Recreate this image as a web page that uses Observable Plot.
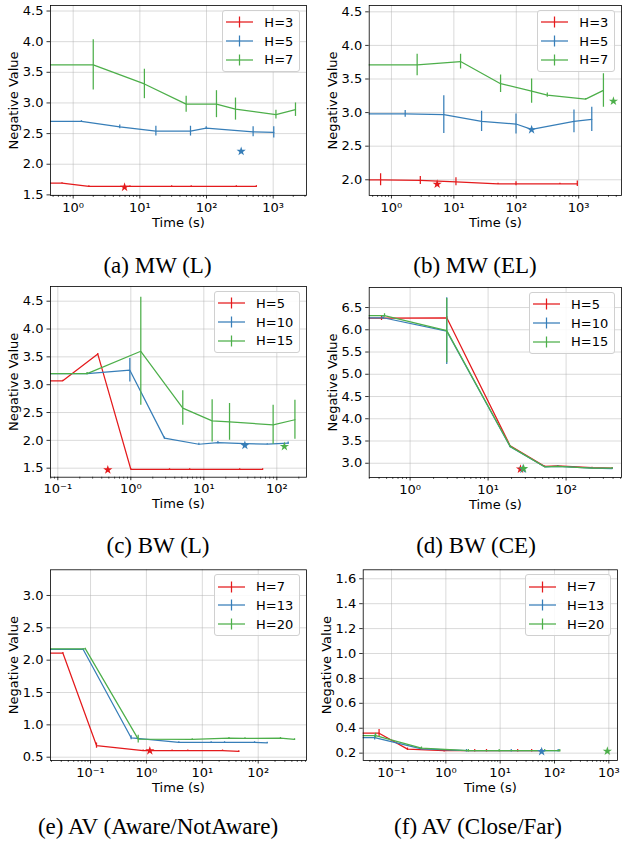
<!DOCTYPE html>
<html><head><meta charset="utf-8">
<script src="https://cdn.jsdelivr.net/npm/d3@7"></script>
<script src="https://cdn.jsdelivr.net/npm/@observablehq/plot@0.6"></script>
<style>
body{margin:0;background:#fff;}
#root{position:relative;width:622px;height:841px;overflow:hidden;background:#fff;}
.panel{position:absolute;}
.cap{position:absolute;font-family:"Liberation Serif","Times New Roman",serif;font-size:23px;transform:translate(-50%,-50%);white-space:nowrap;color:#000;line-height:1;}
.leg{position:absolute;background:rgba(255,255,255,0.85);border:1px solid #d0d0d0;border-radius:3px;padding:2px 6px 2px 3.5px;font-family:"DejaVu Sans",sans-serif;font-size:13px;color:#000;}
.row{display:flex;align-items:center;height:18.7px;}
.row svg{margin-right:11px;}
</style>
</head><body><div id="root"></div>
<script>
// Series colours (H small, H medium, H large)
const COLORS = ["#e41a1c", "#377eb8", "#4daf4a"];

// ---------- (a) MW (L) ----------  [time (s), negative value, error]
const mwL_names = ["H=3", "H=5", "H=7"];
const mwL_H3 = [[0,1.69,0],[0.68,1.69,0.01],[1.72,1.64,0.01],[7.1,1.64,0.01],[30,1.64,0.01],[59,1.64,0.01],[280,1.64,0.01],[560,1.64,0.01]];
const mwL_H5 = [[0,2.70,0],[1.33,2.70,0.01],[5.0,2.61,0.03],[17.4,2.54,0.08],[57.5,2.54,0.08],[99,2.59,0.02],[500,2.53,0.08],[1020,2.52,0.09]];
const mwL_H7 = [[0,3.62,0],[2.0,3.62,0.41],[11.7,3.31,0.24],[49.5,2.98,0.13],[141,2.98,0.22],[272,2.90,0.18],[1100,2.81,0.07],[2160,2.89,0.11]];
const mwL_stars = [[5.9,1.625],[331,2.21],null];

// ---------- (b) MW (EL) ----------
const mwEL_names = ["H=3", "H=5", "H=7"];
const mwEL_H3 = [[0,2.0,0],[0.67,2.0,0.09],[2.9,1.99,0.06],[10.8,1.97,0.06],[51,1.94,0.01],[99,1.94,0.03],[500,1.94,0.01],[950,1.94,0.04]];
const mwEL_H5 = [[0,2.98,0],[1.66,2.98,0.05],[6.9,2.97,0.28],[27.8,2.87,0.15],[99,2.83,0.15],[176,2.75,0.03],[840,2.87,0.17],[1620,2.90,0.18]];
const mwEL_H7 = [[0,3.71,0],[2.58,3.71,0.16],[12.8,3.76,0.11],[56,3.43,0.13],[176,3.32,0.18],[314,3.26,0.03],[1290,3.20,0.01],[2490,3.33,0.25]];
const mwEL_stars = [[5.4,1.935],[176,2.745],[3600,3.17]];

// ---------- (c) BW (L) ----------
const bwL_names = ["H=5", "H=10", "H=15"];
const bwL_H5 = [[0,3.07,0],[0.117,3.07,0.01],[0.353,3.55,0.01],[1.0,1.48,0.01],[3.39,1.48,0.01],[6.4,1.48,0.01],[31,1.48,0.01],[64,1.48,0.01]];
const bwL_H10 = [[0,3.2,0],[0.252,3.2,0.01],[0.97,3.26,0.21],[2.89,2.04,0.02],[8.55,1.93,0.02],[15.6,1.96,0.02],[36.5,1.94,0.01],[74,1.93,0.01],[143,1.95,0.02]];
const bwL_H15 = [[0,3.2,0],[0.252,3.2,0.02],[1.37,3.6,0.97],[5.15,2.58,0.31],[13.0,2.35,0.38],[22.5,2.33,0.33],[89,2.28,0.35],[177,2.37,0.35]];
const bwL_stars = [[0.484,1.47],[36.5,1.91],[127,1.89]];

// ---------- (d) BW (CE) ----------
const bwCE_names = ["H=5", "H=10", "H=15"];
const bwCE_H5 = [[0,6.26,0],[0.43,6.26,0.05],[2.95,6.27,0.03],[19.2,3.39,0.01],[53,2.93,0.01],[78,2.94,0.01],[215,2.90,0.01],[390,2.89,0.01]];
const bwCE_H10 = [[0,6.27,0],[0.45,6.27,0.03],[2.95,5.97,0.75],[19.2,3.37,0.02],[53,2.92,0.01],[78,2.93,0.01],[215,2.89,0.01],[390,2.88,0.01]];
const bwCE_H15 = [[0,6.32,0],[0.47,6.32,0.04],[2.95,5.98,0.72],[19.2,3.38,0.02],[53,2.92,0.01],[78,2.93,0.01],[215,2.89,0.01],[390,2.89,0.01]];
const bwCE_stars = [[26,2.87],[28,2.87],[28.5,2.88]];

// ---------- (e) AV (Aware/NotAware) ----------
const avA_names = ["H=7", "H=13", "H=20"];
const avA_H7 = [[0,2.11,0],[0.032,2.11,0.01],[0.128,0.68,0.04],[0.875,0.60,0.01],[1.18,0.60,0.01],[2.88,0.60,0.01],[5.5,0.60,0.01],[23,0.60,0.01],[45,0.59,0.01]];
const avA_H13 = [[0,2.165,0],[0.074,2.165,0.01],[0.533,0.80,0.03],[0.684,0.79,0.01],[3.8,0.73,0.01],[14.4,0.73,0.01],[25,0.73,0.01],[86,0.73,0.01],[145,0.72,0.01]];
const avA_H20 = [[0,2.175,0],[0.081,2.175,0.01],[0.713,0.78,0.06],[6.6,0.775,0.01],[30,0.795,0.01],[58,0.79,0.01],[250,0.795,0.01],[447,0.775,0.01]];
const avA_stars = [[1.15,0.60],null,null];

// ---------- (f) AV (Close/Far) ----------
const avC_names = ["H=7", "H=13", "H=20"];
const avC_H7 = [[0,0.36,0],[0.059,0.36,0.03],[0.197,0.232,0.01],[0.93,0.22,0.01],[3.4,0.22,0.01],[5.6,0.22,0.01],[21,0.22,0.01],[38,0.22,0.01],[58,0.22,0.01]];
const avC_H13 = [[0,0.325,0],[0.049,0.325,0.02],[0.356,0.235,0.01],[2.4,0.22,0.01],[16,0.22,0.01],[56,0.22,0.01],[117,0.22,0.01]];
const avC_H20 = [[0,0.34,0],[0.051,0.34,0.02],[0.356,0.24,0.01],[2.6,0.22,0.01],[9.6,0.22,0.01],[66,0.22,0.01],[125,0.22,0.01]];
const avC_stars = [null,[58,0.213],[940,0.216]];

// ---------- tick values ----------
const xTicks_a = [1,10,100,1000];
const xTicks_b = [1,10,100,1000];
const xTicks_c = [0.1,1,10,100];
const xTicks_d = [1,10,100];
const xTicks_e = [0.1,1,10,100];
const xTicks_f = [0.1,1,10,100,1000];
const yTicks_a = [1.5,2.0,2.5,3.0,3.5,4.0,4.5];
const yTicks_b = [2.0,2.5,3.0,3.5,4.0,4.5];
const yTicks_c = [1.5,2.0,2.5,3.0,3.5,4.0,4.5];
const yTicks_d = [3.0,3.5,4.0,4.5,5.0,5.5,6.0,6.5];
const yTicks_e = [0.5,1.0,1.5,2.0,2.5,3.0];
const yTicks_f = [0.2,0.4,0.6,0.8,1.0,1.2,1.4,1.6];

const captions = ["(a) MW (L)","(b) MW (EL)","(c) BW (L)","(d) BW (CE)","(e) AV (Aware/NotAware)","(f) AV (Close/Far)"];
const X_LABEL = "Time (s)";
const Y_LABEL = "Negative Value";

// ---------- layout (page pixels) ----------
const panels = [
  {names:mwL_names, series:[mwL_H3,mwL_H5,mwL_H7], stars:mwL_stars, xt:xTicks_a, yt:yTicks_a,
   box:[0,0], frame:[50,306,5,195], xDom:[0.457,3160], yDom:[1.49,4.59], cap:[157.5,265]},
  {names:mwEL_names, series:[mwEL_H3,mwEL_H5,mwEL_H7], stars:mwEL_stars, xt:xTicks_b, yt:yTicks_b,
   box:[311,0], frame:[368.7,621,5,195], xDom:[0.44,4850], yDom:[1.766,4.594], cap:[475,265]},
  {names:bwL_names, series:[bwL_H5,bwL_H10,bwL_H15], stars:bwL_stars, xt:xTicks_c, yt:yTicks_c,
   box:[0,280], frame:[50,306,286,476.7], xDom:[0.0794,255], yDom:[1.338,4.764], cap:[158,545]},
  {names:bwCE_names, series:[bwCE_H5,bwCE_H10,bwCE_H15], stars:bwCE_stars, xt:xTicks_d, yt:yTicks_d,
   box:[311,280], frame:[368.7,621,287,477], xDom:[0.299,513], yDom:[2.68,6.95], cap:[476,545]},
  {names:avA_names, series:[avA_H7,avA_H13,avA_H20], stars:avA_stars, xt:xTicks_e, yt:yTicks_e,
   box:[0,560], frame:[50,306,569.3,760], xDom:[0.01923,731], yDom:[0.449,3.397], cap:[158,826]},
  {names:avC_names, series:[avC_H7,avC_H13,avC_H20], stars:avC_stars, xt:xTicks_f, yt:yTicks_f,
   box:[311,560], frame:[362.7,617,569.3,760], xDom:[0.0301,1445], yDom:[0.141,1.672], cap:[478,826]}
];

const SUP = {"0":"⁰","1":"¹","2":"²","3":"³","4":"⁴","5":"⁵","6":"⁶","7":"⁷","8":"⁸","9":"⁹","-":"⁻"};
const supFmt = d => "10" + String(Math.round(Math.log10(d))).split("").map(c => SUP[c]).join("");
const T0 = 1e-9; // time 0 on a log axis: drawn off the left edge and clipped

function minorTicks(dom) {
  const out = [];
  for (let k = Math.floor(Math.log10(dom[0])); k <= Math.ceil(Math.log10(dom[1])); k++)
    for (let m = 2; m <= 9; m++) { const v = m * Math.pow(10, k); if (v > dom[0] && v < dom[1]) out.push(v); }
  return out;
}

const root = document.getElementById("root");
const W = 311, H = 240;

panels.forEach((p, pi) => {
  const [bx, by] = p.box;
  const [fl, fr, ft, fb] = p.frame;
  const marks = [
    Plot.gridX(p.xt, {stroke:"#b0b0b0", strokeOpacity:0.6, strokeWidth:0.8}),
    Plot.gridY(p.yt, {stroke:"#b0b0b0", strokeOpacity:0.6, strokeWidth:0.8})
  ];
  p.series.forEach((s, si) => {
    const c = COLORS[si];
    marks.push(Plot.line(s, {x: d => d[0] === 0 ? T0 : d[0], y: d => d[1], stroke: c, strokeWidth: 1.25, clip: true}));
    marks.push(Plot.ruleX(s.filter(d => d[2] > 0), {x: d => d[0], y1: d => d[1] - d[2], y2: d => d[1] + d[2], stroke: c, strokeWidth: 1.25, clip: true}));
  });
  p.stars.forEach((st, si) => {
    if (st) marks.push(Plot.dot([st], {x: d => d[0], y: d => d[1], symbol: "star", fill: COLORS[si], stroke: "none", r: 2.9}));
  });
  marks.push(
    Plot.axisX(minorTicks(p.xDom), {tickSize: 2, tickFormat: () => "", strokeWidth: 0.6, label: null}),
    Plot.axisX(p.xt, {tickSize: 3.5, tickPadding: 3.5, tickFormat: supFmt, label: null, strokeWidth: 0.8}),
    Plot.axisY(p.yt, {tickSize: 3.5, tickPadding: 3.5, tickFormat: d3.format(".1f"), label: null, strokeWidth: 0.8}),
    Plot.frame({stroke: "#000", strokeWidth: 0.8}),
    Plot.text([X_LABEL], {text: d => d, frameAnchor: "bottom", dy: 27, textAnchor: "middle", lineAnchor: "middle", fontSize: 13}),
    Plot.text([Y_LABEL], {text: d => d, frameAnchor: "left", dx: -36.5, rotate: -90, textAnchor: "middle", lineAnchor: "middle", fontSize: 13})
  );
  const chart = Plot.plot({
    width: W, height: H,
    marginLeft: fl - bx, marginRight: bx + W - fr, marginTop: ft - by, marginBottom: by + H - fb,
    x: {type: "log", domain: p.xDom},
    y: {domain: p.yDom},
    style: {fontFamily: "'DejaVu Sans', sans-serif", fontSize: "13px", color: "#000", background: "none", overflow: "visible"},
    marks
  });
  const wrap = document.createElement("div");
  wrap.className = "panel";
  wrap.style.left = bx + "px"; wrap.style.top = by + "px";
  wrap.appendChild(chart);
  root.appendChild(wrap);

  // legend
  const leg = document.createElement("div");
  leg.className = "leg";
  leg.style.right = (622 - (fr - 5.7)) + "px";
  leg.style.top = (ft + 5) + "px";
  p.names.forEach((n, si) => {
    const row = document.createElement("div");
    row.className = "row";
    const ns = "http://www.w3.org/2000/svg";
    const svg = document.createElementNS(ns, "svg");
    svg.setAttribute("width", 27); svg.setAttribute("height", 14);
    const l1 = document.createElementNS(ns, "line");
    l1.setAttribute("x1", 0); l1.setAttribute("x2", 27); l1.setAttribute("y1", 7); l1.setAttribute("y2", 7);
    const l2 = document.createElementNS(ns, "line");
    l2.setAttribute("x1", 13.5); l2.setAttribute("x2", 13.5); l2.setAttribute("y1", 1.5); l2.setAttribute("y2", 12.5);
    [l1, l2].forEach(l => { l.setAttribute("stroke", COLORS[si]); l.setAttribute("stroke-width", 1.25); svg.appendChild(l); });
    row.appendChild(svg);
    const t = document.createElement("span"); t.textContent = n; row.appendChild(t);
    leg.appendChild(row);
  });
  root.appendChild(leg);

  const cap = document.createElement("div");
  cap.className = "cap";
  cap.textContent = captions[pi];
  cap.style.left = p.cap[0] + "px"; cap.style.top = p.cap[1] + "px";
  root.appendChild(cap);
});
</script></body></html>
